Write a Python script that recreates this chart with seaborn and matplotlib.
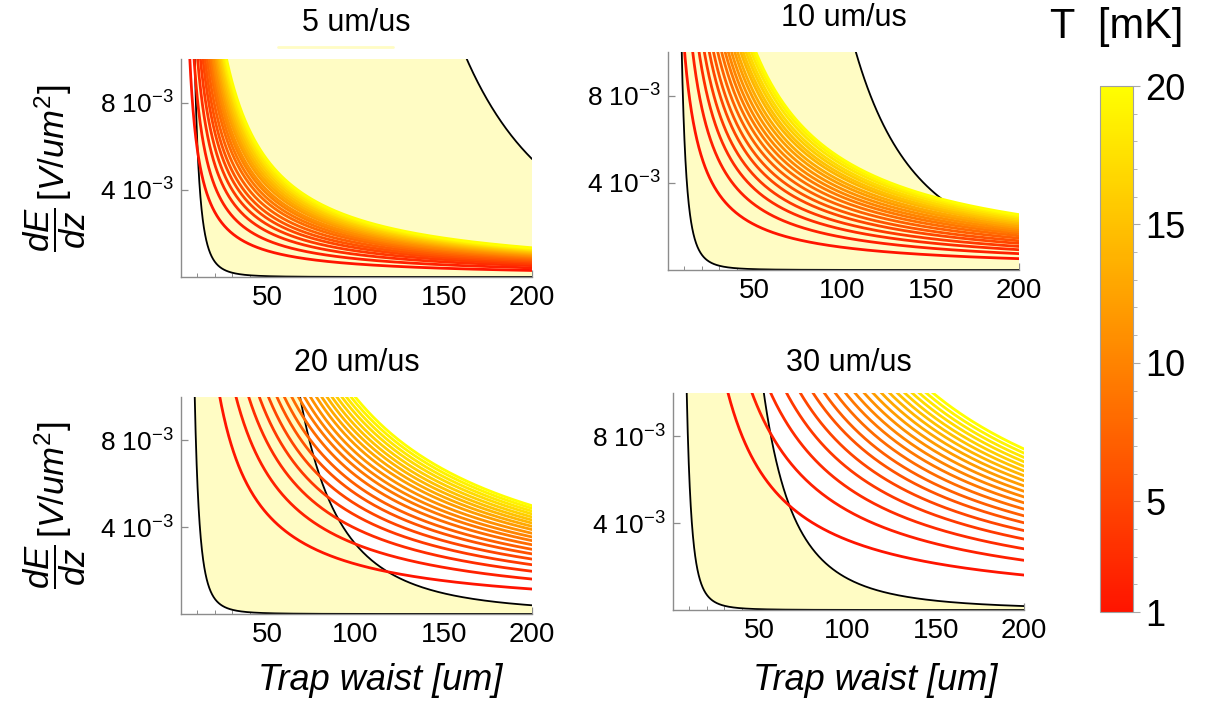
import numpy as np
import pandas as pd
import matplotlib
matplotlib.use("Agg")
import matplotlib.pyplot as plt
import seaborn as sns
from matplotlib.colors import LinearSegmentedColormap, Normalize
from matplotlib.cm import ScalarMappable
from matplotlib.ticker import MultipleLocator, FixedLocator
from matplotlib.lines import Line2D

# ---------------- data ----------------
SPEEDS = ["5 um/us", "10 um/us", "20 um/us", "30 um/us"]
T_LEVELS = list(range(1, 21))  # contour temperatures, mK

# dE/dz (x 1e-3 V/um^2) of each temperature contour, read at trap waist = 200 um
E200_V5 = [0.30, 0.42, 0.52, 0.60, 0.67, 0.73, 0.79, 0.85, 0.90, 0.95,
           0.99, 1.04, 1.08, 1.12, 1.16, 1.20, 1.24, 1.27, 1.31, 1.34]
E200_V10 = [0.52, 0.75, 0.93, 1.08, 1.22, 1.34, 1.46, 1.57, 1.67, 1.76,
            1.85, 1.94, 2.02, 2.11, 2.18, 2.26, 2.33, 2.41, 2.48, 2.54]
E200_V20 = [1.15, 1.61, 1.97, 2.27, 2.53, 2.77, 2.98, 3.19, 3.38, 3.55,
            3.72, 3.89, 4.04, 4.19, 4.33, 4.47, 4.61, 4.74, 4.87, 4.99]
E200_V30 = [1.61, 2.29, 2.82, 3.27, 3.66, 4.02, 4.34, 4.65, 4.94, 5.21,
            5.47, 5.72, 5.96, 6.19, 6.41, 6.62, 6.83, 7.03, 7.23, 7.42]
E200_ALL = [E200_V5, E200_V10, E200_V20, E200_V30]

# upper black boundary: waist (um) where it leaves the top of the frame (1e-2)
UPPER_W_TOP = [163.0, 107.5, 68.5, 52.5]
UPPER_STEEPNESS = 3.0
# lower black boundary (same in every panel): dE/dz = 4e-3 at waist 11.7 um
LOWER_W_AT_4E3 = 11.7
LOWER_STEEPNESS = 3.2

X_MAJOR = [50, 100, 150, 200]
Y_TICKS = [0.004, 0.008]
Y_TICKLABELS = [r"$4\ 10^{-3}$", r"$8\ 10^{-3}$"]
CB_TICKS = [1, 5, 10, 15, 20]

# ---------------- style ----------------
sns.set_theme(style="white")
plt.rcParams["font.family"] = ["Liberation Sans", "DejaVu Sans"]
plt.rcParams.update({
    "mathtext.fontset": "custom",
    "mathtext.rm": "Liberation Sans",
    "mathtext.it": "Liberation Sans:italic",
    "mathtext.bf": "Liberation Sans:bold",
    "mathtext.sf": "Liberation Sans",
    "text.color": "black",
    "axes.labelcolor": "black",
    "xtick.color": "black",
    "ytick.color": "black",
})

FILL = "#fffcc4"
AXC = "#8c8c8c"
cmap = LinearSegmentedColormap.from_list("redyellow", ["#ff1400", "#ffff00"])
norm = Normalize(1, 20)

W, H = 1209, 706
fig = plt.figure(figsize=(W / 100, H / 100), dpi=100)


def px_box(l, t, r, b):
    return [l / W, 1 - b / H, (r - l) / W, (b - t) / H]


boxes = [(181, 59, 532, 277), (668, 52, 1019, 270),
         (181, 397, 532, 614), (673, 393, 1024, 610)]
title_off = [36, 34, 34, 30]

w = np.geomspace(1, 200, 700)
lower = 4e-3 * (LOWER_W_AT_4E3 / w) ** LOWER_STEEPNESS

for i, (box, speed, e200, wtop) in enumerate(zip(boxes, SPEEDS, E200_ALL, UPPER_W_TOP)):
    ax = fig.add_axes(px_box(*box))
    upper = 1e-2 * (wtop / w) ** UPPER_STEEPNESS

    ax.fill_between(w, lower, np.minimum(upper, 0.02), where=upper > lower,
                    color=FILL, lw=0, zorder=1)
    ax.plot(w, lower, color="black", lw=1.3, zorder=2)
    ax.plot(w, upper, color="black", lw=1.3, zorder=2)

    rows = []
    for T, e in zip(T_LEVELS, e200):
        y = np.minimum(e * 1e-3 * 200.0 / w, 0.05)
        rows.append(pd.DataFrame({"T": T, "w": w, "E": y}))
    df = pd.concat(rows, ignore_index=True)
    sns.lineplot(data=df, x="w", y="E", hue="T", palette=cmap, hue_norm=norm,
                 estimator=None, sort=False, legend=False, lw=2.0, ax=ax, zorder=3)

    ax.set_xlim(1, 200)
    ax.set_ylim(0, 0.01)
    ax.set_facecolor("white")
    for s in ["top", "right"]:
        ax.spines[s].set_visible(False)
    for s in ["left", "bottom"]:
        ax.spines[s].set_color(AXC)
        ax.spines[s].set_linewidth(1.0)
    ax.set_xticks(X_MAJOR)
    ax.xaxis.set_minor_locator(MultipleLocator(10))
    ax.set_yticks(Y_TICKS)
    ax.set_yticklabels(Y_TICKLABELS)
    ax.tick_params(which="both", direction="in", color=AXC, labelcolor="black",
                   bottom=True, left=True)
    ax.tick_params(which="major", length=5, width=0.9)
    ax.tick_params(which="minor", length=3, width=0.7)
    ax.tick_params(axis="x", labelsize=20, pad=6)
    ax.tick_params(axis="y", labelsize=19, pad=5)
    ax.set_xlabel("")
    ax.set_ylabel("")

    hpx = box[3] - box[1]
    ax.set_title(speed, fontsize=22, y=1 + title_off[i] / hpx, va="center", pad=0,
                 color="black")

    if i in (0, 2):
        ax.set_ylabel(r"$\dfrac{dE}{dz}\,[V/um^2]$", fontsize=25)
        ax.yaxis.set_label_coords((55 - box[0]) / (box[2] - box[0]), 0.5)
        ax.yaxis.label.set_va("center")
    if i in (2, 3):
        cx = 380 if i == 2 else 875
        ax.set_xlabel("Trap waist [um]", fontsize=26, style="italic")
        ax.xaxis.set_label_coords((cx - box[0]) / (box[2] - box[0]),
                                  -(681 - box[3]) / hpx)
        ax.xaxis.label.set_va("center")

# colour bar
cax = fig.add_axes(px_box(1100, 86, 1133, 612))
cb = fig.colorbar(ScalarMappable(norm=norm, cmap=cmap), cax=cax)
cb.set_ticks(CB_TICKS)
cb.ax.yaxis.set_minor_locator(FixedLocator(T_LEVELS))
cb.outline.set_edgecolor("#a0a0a0")
cb.outline.set_linewidth(0.8)
cax.tick_params(which="both", direction="out", color="#a8a8a8", labelcolor="black",
                right=True, left=False)
cax.tick_params(which="major", length=5, width=0.8, labelsize=26, pad=4)
cax.tick_params(which="minor", length=3, width=0.6)
cax.set_title("T  [mK]", fontsize=30, y=1 + 59 / 526, va="center", pad=0,
              color="black")

# faint stray stroke under the first title in the reference
fig.add_artist(Line2D([278 / W, 393 / W], [1 - 47 / H] * 2, color=FILL, lw=2))

fig.savefig("out.png", dpi=100)
